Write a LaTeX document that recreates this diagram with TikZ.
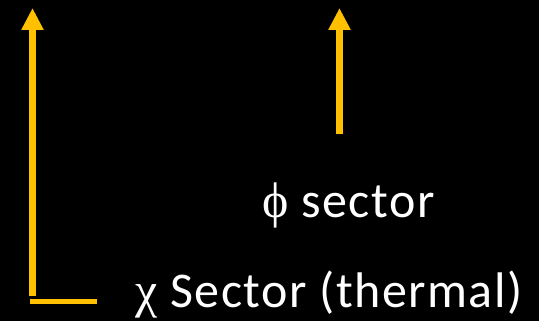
\documentclass[tikz,border=0pt]{standalone}
\usepackage{fontspec}
\setmainfont{Carlito}[LetterSpace=3]
\newfontfamily\greekfont{Liberation Serif}
\usetikzlibrary{arrows.meta}
\definecolor{sectorgold}{HTML}{FFC000}

\begin{document}
\begin{tikzpicture}[x=1pt, y=-1pt,
    sectorarrow/.style={line width=7pt, sectorgold, -{Triangle[width=21pt, length=22pt]}},
    sectorlabel/.style={text=white, font=\fontsize{50}{52}\selectfont, anchor=base west, inner sep=0pt}]
                \fill[black] (0,0) rectangle (539,321);
                \useasboundingbox (0,0) rectangle (539,321);

                % chi sector axis
                \coordinate (chibase) at (32.5,296);
                \coordinate (chitop) at (32.5,8);
                \draw[sectorarrow] (chibase) -- (chitop);
                \coordinate (floorleft) at (30,301.5);
                \coordinate (floorright) at (97,301.5);
                \draw[line width=5pt, sectorgold] (floorleft) -- (floorright);

                % phi sector
                \coordinate (phibase) at (339.5,134);
                \coordinate (phitop) at (339.5,8);
                \draw[sectorarrow] (phibase) -- (phitop);

                \node[sectorlabel] (philabel) at (262,218) {{\greekfont ϕ} sector};
                \node[sectorlabel] (chilabel) at (135,307) {{\greekfont χ} Sector (thermal)};
            \end{tikzpicture}
\end{document}
